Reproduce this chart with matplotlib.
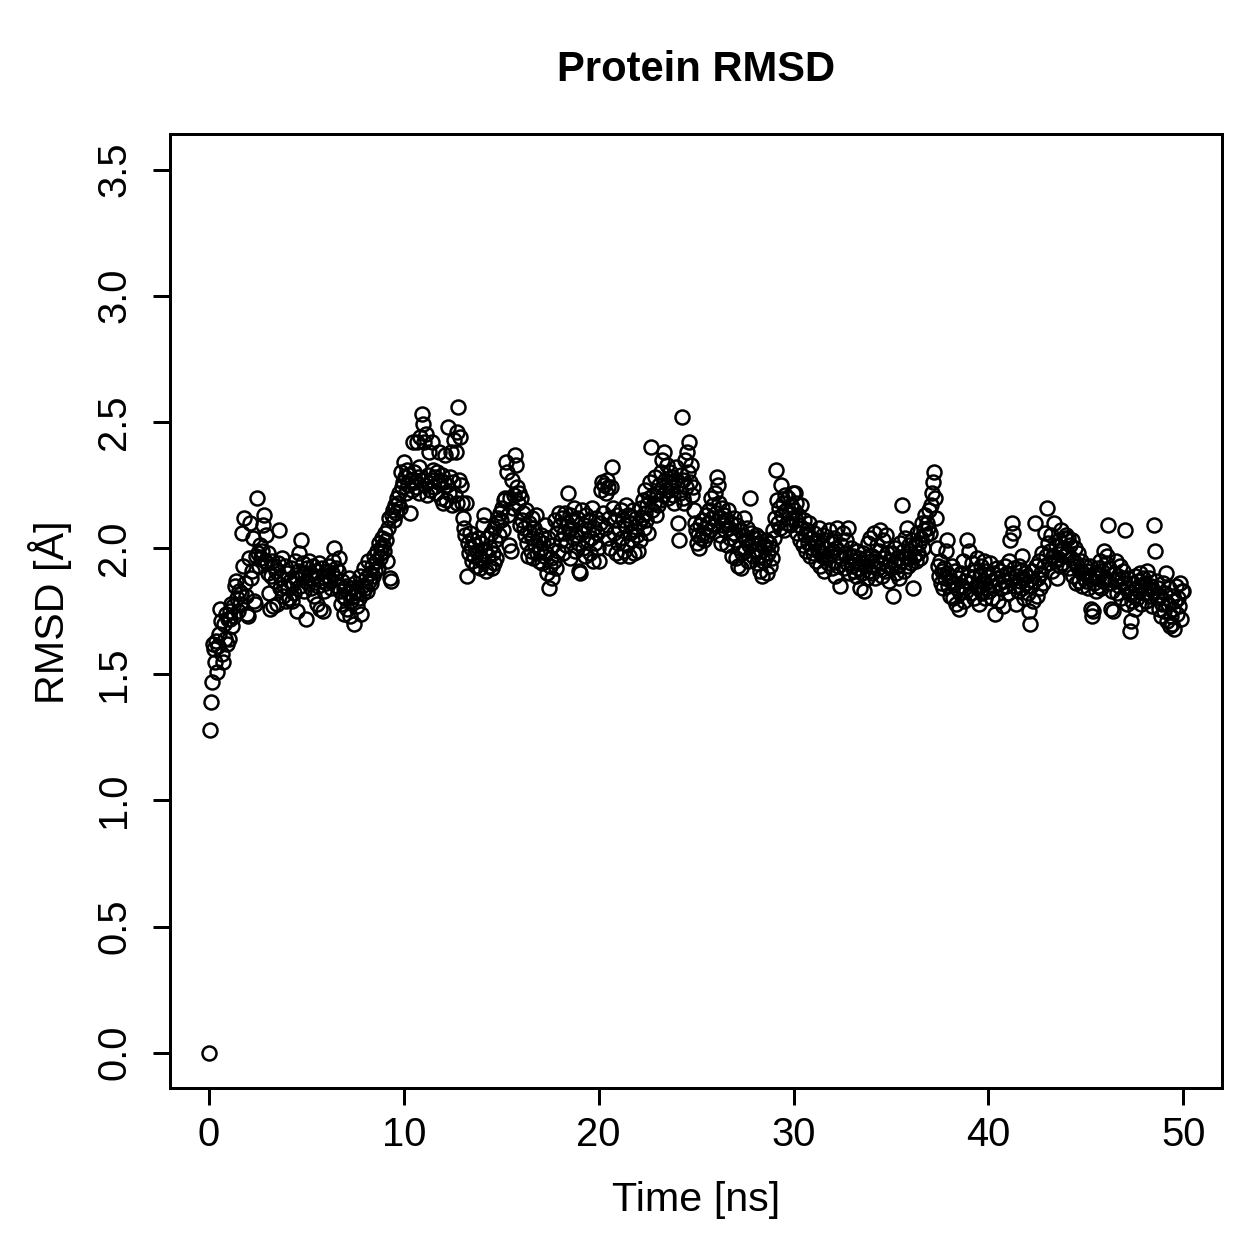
import numpy as np
import matplotlib
matplotlib.use("Agg")
import matplotlib.pyplot as plt

# RMSD values (Angstrom), one per 0.05 ns frame
rmsd = [
    # 0 - 1 ns
    0.00, 1.28, 1.39, 1.47, 1.62, 1.60, 1.55, 1.63, 1.51, 1.61, 1.66, 1.76, 1.71, 1.58, 1.55, 1.70, 1.64, 1.74, 1.62, 1.72,
    1.64, 1.75, 1.72, 1.78, 1.69, 1.77, 1.73, 1.85, 1.87, 1.80, 1.75, 1.83, 1.78, 1.82, 2.06, 1.93, 2.12, 1.86, 1.81, 1.74,
    1.73, 1.96, 2.10, 1.88, 1.91, 2.04, 1.79, 1.78, 1.97, 2.20, 1.98, 1.93, 2.01, 1.96, 1.99, 2.09, 2.13, 1.95, 2.05, 1.94,
    1.98, 1.90, 1.82, 1.76, 1.89, 1.95, 1.77, 1.93, 1.87, 1.91, 1.78, 1.94, 2.07, 1.84, 1.88, 1.96, 1.81, 1.85, 1.93, 1.79,
    1.90, 1.84, 1.80, 1.87, 1.92, 1.79, 1.86, 1.82, 1.95, 1.88, 1.75, 1.91, 1.98, 1.85, 2.03, 1.89, 1.94, 1.83, 1.90, 1.87,
    # 5 - 10 ns
    1.72, 1.92, 1.86, 1.95, 1.90, 1.84, 1.88, 1.93, 1.81, 1.89, 1.91, 1.78, 1.85, 1.94, 1.76, 1.87, 1.92, 1.75, 1.83, 1.88,
    1.86, 1.91, 1.89, 1.93, 1.87, 1.84, 1.90, 1.95, 2.00, 1.88, 1.92, 1.85, 1.91, 1.96, 1.83, 1.78, 1.87, 1.81, 1.74, 1.84,
    1.80, 1.85, 1.76, 1.82, 1.88, 1.73, 1.79, 1.84, 1.81, 1.70, 1.86, 1.83, 1.77, 1.82, 1.80, 1.89, 1.74, 1.85, 1.82, 1.92,
    1.84, 1.88, 1.83, 1.95, 1.87, 1.90, 1.86, 1.93, 1.89, 1.97, 1.91, 1.95, 1.99, 1.92, 2.02, 1.96, 2.00, 1.98, 2.04, 2.01,
    1.99, 2.06, 2.03, 1.95, 2.08, 2.12, 1.88, 1.87, 2.13, 2.15, 2.11, 2.17, 2.14, 2.20, 2.18, 2.22, 2.16, 2.30, 2.24, 2.26,
    # 10 - 15 ns
    2.34, 2.28, 2.22, 2.31, 2.25, 2.29, 2.14, 2.27, 2.23, 2.42, 2.30, 2.26, 2.24, 2.42, 2.28, 2.32, 2.22, 2.44, 2.27, 2.53,
    2.49, 2.42, 2.25, 2.45, 2.21, 2.29, 2.38, 2.23, 2.27, 2.42, 2.31, 2.24, 2.28, 2.22, 2.30, 2.26, 2.38, 2.27, 2.20, 2.29,
    2.18, 2.26, 2.37, 2.19, 2.25, 2.48, 2.22, 2.28, 2.38, 2.17, 2.26, 2.43, 2.21, 2.38, 2.18, 2.46, 2.56, 2.27, 2.44, 2.25,
    2.18, 2.12, 2.08, 2.05, 2.18, 1.89, 2.02, 1.98, 2.06, 2.00, 1.95, 2.03, 1.97, 2.01, 1.93, 1.99, 2.04, 1.96, 1.92, 2.02,
    1.95, 2.09, 2.13, 1.99, 1.91, 2.04, 1.97, 1.93, 2.00, 2.06, 1.92, 1.98, 1.94, 2.08, 2.03, 1.96, 2.10, 2.12, 2.05, 2.14,
    # 15 - 20 ns
    2.11, 2.16, 2.07, 2.19, 2.20, 2.34, 2.30, 2.13, 2.01, 2.20, 1.99, 2.27, 2.16, 2.21, 2.37, 2.33, 2.24, 2.18, 2.22, 2.09,
    2.20, 2.11, 2.14, 2.08, 2.05, 2.15, 2.02, 1.97, 2.10, 2.06, 1.99, 2.12, 2.04, 1.96, 2.08, 2.01, 2.13, 1.98, 2.03, 1.95,
    1.99, 2.05, 1.94, 2.02, 1.97, 2.09, 1.98, 1.90, 2.04, 1.84, 1.93, 1.96, 1.88, 2.01, 1.95, 2.11, 1.92, 2.06, 1.99, 2.14,
    2.09, 2.03, 2.12, 1.98, 2.06, 2.14, 2.01, 2.10, 2.22, 2.07, 2.13, 1.96, 2.08, 2.11, 2.04, 2.16, 1.99, 2.05, 2.12, 2.02,
    1.91, 1.90, 2.06, 2.15, 2.00, 2.09, 1.97, 2.13, 2.03, 2.07, 2.11, 1.98, 2.04, 2.16, 1.95, 2.08, 2.02, 2.12, 2.06, 2.00,
    # 20 - 25 ns
    1.95, 2.10, 2.23, 2.26, 2.14, 2.25, 2.08, 2.22, 2.27, 2.04, 2.24, 2.12, 2.00, 2.24, 2.32, 2.16, 2.06, 2.11, 1.98, 2.13,
    2.02, 2.08, 1.97, 2.15, 2.04, 2.11, 1.99, 2.09, 2.17, 2.01, 2.13, 1.97, 2.06, 2.10, 2.03, 2.15, 1.98, 2.07, 2.12, 2.05,
    1.99, 2.10, 2.03, 2.16, 2.12, 2.19, 2.08, 2.14, 2.23, 2.11, 2.17, 2.06, 2.20, 2.26, 2.40, 2.15, 2.21, 2.18, 2.28, 2.13,
    2.22, 2.17, 2.25, 2.19, 2.30, 2.35, 2.21, 2.38, 2.27, 2.23, 2.33, 2.20, 2.26, 2.30, 2.24, 2.28, 2.21, 2.18, 2.27, 2.32,
    2.25, 2.10, 2.03, 2.22, 2.29, 2.52, 2.20, 2.27, 2.18, 2.35, 2.24, 2.38, 2.30, 2.42, 2.26, 2.33, 2.21, 2.24, 2.15, 2.10,
    # 25 - 30 ns
    2.07, 2.02, 2.05, 2.00, 2.09, 2.04, 2.11, 2.06, 2.03, 2.08, 2.13, 2.05, 2.10, 2.15, 2.07, 2.20, 2.12, 2.17, 2.09, 2.22,
    2.14, 2.28, 2.25, 2.18, 2.05, 2.12, 2.02, 2.16, 2.09, 2.13, 2.07, 2.11, 2.01, 2.15, 2.08, 2.04, 2.10, 1.97, 2.06, 2.12,
    2.03, 1.96, 2.09, 1.93, 2.00, 2.07, 1.92, 1.98, 2.05, 2.12, 1.99, 2.03, 2.08, 1.95, 2.01, 2.20, 2.06, 2.02, 1.97, 2.04,
    1.99, 2.05, 1.94, 2.02, 1.97, 2.04, 1.91, 1.99, 1.89, 1.95, 2.01, 1.96, 2.03, 1.90, 1.98, 2.02, 1.93, 2.00, 1.96, 2.07,
    2.04, 2.12, 2.31, 2.19, 2.10, 2.16, 2.08, 2.25, 2.13, 2.18, 2.07, 2.21, 2.15, 2.10, 2.20, 2.14, 2.09, 2.17, 2.12, 2.22,
    # 30 - 35 ns
    2.15, 2.22, 2.11, 2.18, 2.06, 2.13, 2.09, 2.03, 2.17, 2.08, 2.01, 2.11, 2.05, 1.99, 2.07, 2.02, 2.10, 1.97, 2.04, 2.00,
    1.98, 2.06, 2.02, 1.95, 2.03, 1.99, 2.08, 1.93, 2.01, 1.97, 2.05, 1.91, 2.00, 1.96, 2.03, 1.94, 2.07, 1.98, 2.02, 1.92,
    1.99, 1.95, 2.04, 1.89, 2.00, 2.08, 1.93, 1.97, 1.85, 2.01, 1.96, 2.06, 1.92, 1.98, 2.03, 1.94, 2.08, 1.90, 1.97, 2.00,
    1.93, 1.97, 1.91, 1.95, 1.89, 1.99, 1.92, 1.96, 1.84, 1.94, 1.90, 1.98, 1.83, 1.93, 1.96, 1.88, 2.02, 1.91, 2.04, 1.95,
    1.90, 1.97, 1.93, 2.06, 1.88, 1.95, 2.01, 1.92, 1.99, 2.07, 1.94, 1.89, 2.03, 1.96, 1.91, 2.05, 1.98, 1.93, 1.87, 1.95,
    # 35 - 40 ns
    1.92, 1.98, 1.81, 1.94, 2.00, 1.90, 1.96, 1.93, 1.88, 2.02, 1.95, 2.17, 1.99, 1.91, 2.04, 1.97, 2.08, 1.93, 2.01, 1.96,
    1.99, 1.94, 2.03, 1.84, 1.97, 2.01, 1.95, 2.06, 1.98, 2.02, 1.96, 2.04, 2.10, 2.00, 2.07, 2.13, 2.05, 2.10, 2.08, 2.15,
    2.06, 2.17, 2.22, 2.26, 2.30, 2.20, 2.12, 2.00, 1.93, 1.89, 1.95, 1.86, 1.91, 1.84, 1.92, 1.88, 1.99, 2.03, 1.90, 1.85,
    1.89, 1.81, 1.87, 1.93, 1.80, 1.86, 1.91, 1.78, 1.84, 1.88, 1.76, 1.82, 1.90, 1.85, 1.95, 1.79, 1.87, 1.83, 2.03, 1.89,
    1.99, 1.86, 1.82, 1.94, 1.88, 1.80, 1.91, 1.85, 1.96, 1.84, 1.78, 1.89, 1.93, 1.82, 1.87, 1.95, 1.80, 1.86, 1.91, 1.84,
    # 40 - 45 ns
    1.89, 1.83, 1.94, 1.87, 1.80, 1.90, 1.85, 1.74, 1.88, 1.92, 1.79, 1.86, 1.91, 1.84, 1.89, 1.77, 1.87, 1.93, 1.85, 1.90,
    1.82, 1.95, 2.03, 1.88, 2.10, 2.06, 1.92, 1.85, 1.78, 1.89, 1.83, 1.93, 1.87, 1.91, 1.84, 1.97, 1.88, 1.80, 1.90, 1.86,
    1.89, 1.82, 1.75, 1.70, 1.85, 1.91, 1.79, 1.87, 2.10, 1.93, 1.81, 1.88, 1.95, 1.84, 1.90, 1.98, 1.86, 1.93, 2.06, 1.97,
    2.16, 2.02, 1.94, 1.99, 2.05, 1.91, 1.97, 2.10, 1.95, 2.01, 1.88, 1.96, 2.03, 1.93, 1.99, 2.07, 1.94, 2.00, 1.97, 2.04,
    2.05, 1.98, 2.04, 1.92, 2.01, 1.96, 2.03, 1.89, 1.95, 2.00, 1.86, 1.93, 1.98, 1.87, 1.91, 1.95, 1.85, 1.90, 1.88, 1.93,
    # 45 - 50 ns
    1.87, 1.91, 1.84, 1.89, 1.93, 1.76, 1.73, 1.75, 1.86, 1.90, 1.83, 1.88, 1.92, 1.85, 1.89, 1.95, 1.84, 1.91, 1.87, 1.99,
    1.88, 1.94, 1.97, 2.09, 1.92, 1.86, 1.76, 1.83, 1.75, 1.90, 1.87, 1.95, 1.82, 1.89, 1.85, 1.93, 1.80, 1.88, 1.91, 1.86,
    2.07, 1.84, 1.78, 1.88, 1.82, 1.67, 1.71, 1.79, 1.86, 1.81, 1.89, 1.76, 1.84, 1.80, 1.87, 1.83, 1.90, 1.78, 1.85, 1.88,
    1.82, 1.86, 1.79, 1.91, 1.84, 1.88, 1.81, 1.85, 1.77, 1.83, 2.09, 1.99, 1.87, 1.80, 1.84, 1.76, 1.81, 1.73, 1.78, 1.86,
    1.75, 1.82, 1.90, 1.71, 1.78, 1.84, 1.69, 1.73, 1.70, 1.81, 1.76, 1.68, 1.79, 1.85, 1.74, 1.80, 1.77, 1.86, 1.72, 1.83,
    1.83,
]
time_step = 0.05  # ns per frame
time_ns = np.arange(len(rmsd)) * time_step

x_ticks = [0, 10, 20, 30, 40, 50]
y_ticks = [0.0, 0.5, 1.0, 1.5, 2.0, 2.5, 3.0, 3.5]

plt.rcParams['font.family'] = ['Liberation Sans', 'DejaVu Sans']

fig = plt.figure(figsize=(7, 7), dpi=180)
# axes box: x 170..1222 px, y 135..1088 px (of 1260)
ax = fig.add_axes([0.135, 0.1365, 0.835, 0.757])

ax.plot(time_ns, rmsd, 'o', mfc='none', mec='black', ms=5.6, mew=1.0)

ax.set_xlim(-2, 52)
ax.set_ylim(-0.14, 3.64)
ax.set_xticks(x_ticks)
ax.set_yticks(y_ticks)
ax.set_yticklabels([f"{v:.1f}" for v in y_ticks], rotation=90, va='center')
ax.tick_params(direction='out', length=6.8, width=1.2, labelsize=16)
ax.tick_params(axis='x', pad=4.5)
ax.tick_params(axis='y', pad=8)
for sp in ax.spines.values():
    sp.set_linewidth(1.2)

fig.text(0.5525, 1 - 1200 / 1260, "Time [ns]", fontsize=16.5, ha='center', va='center')
fig.text(50 / 1260, 1 - 612 / 1260, "RMSD [Å]", fontsize=16.5, ha='center', va='center',
         rotation=90)
fig.text(0.5525, 1 - 70 / 1260, "Protein RMSD", fontsize=16.7, fontweight='bold',
         ha='center', va='center')

fig.savefig("out.png", dpi=180)
